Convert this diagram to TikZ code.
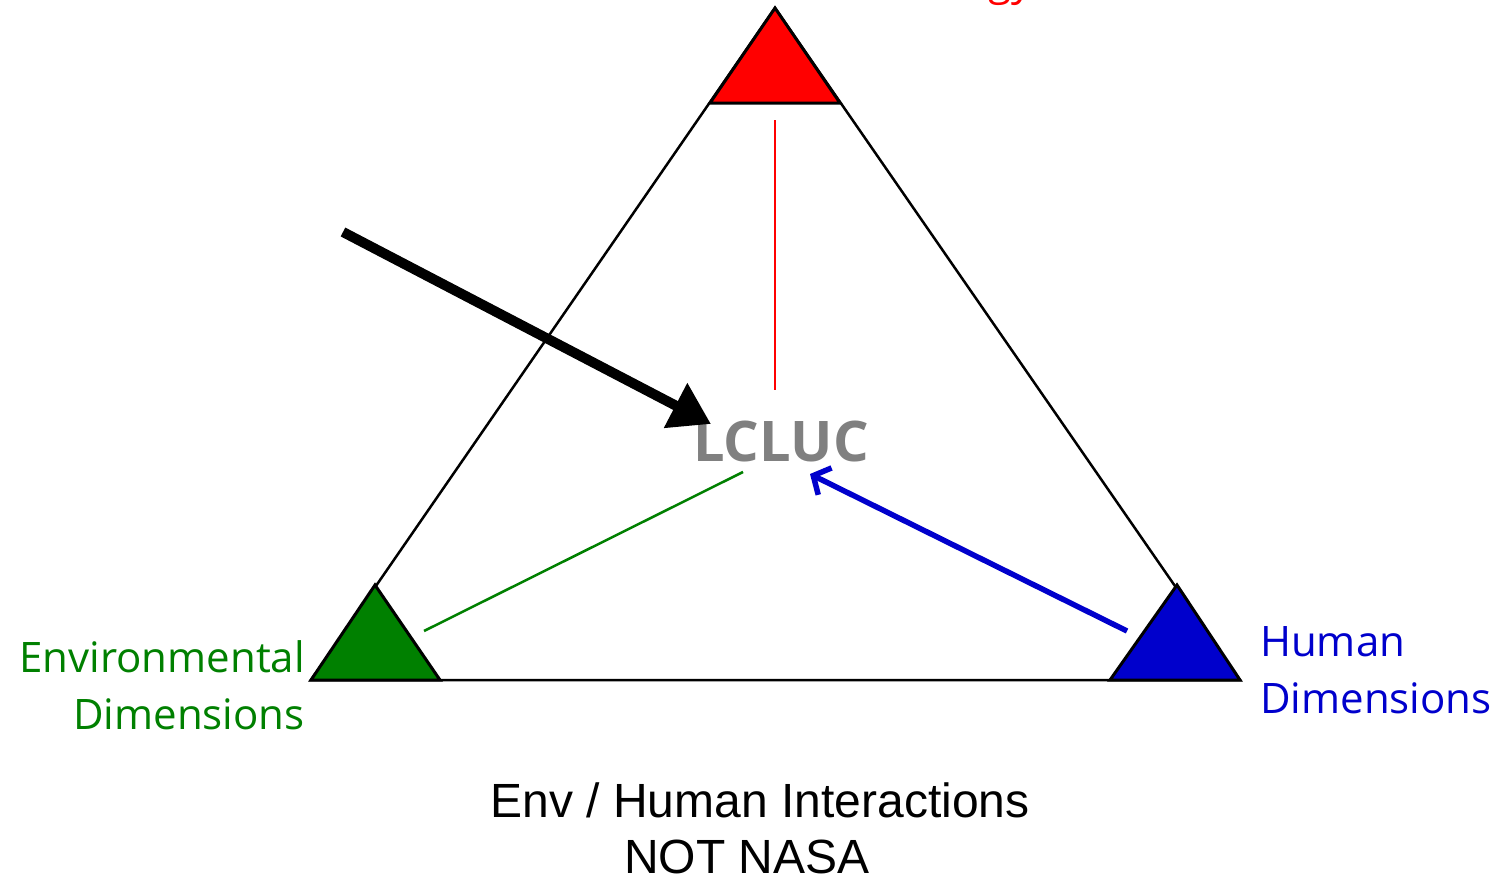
\documentclass[tikz,border=0pt]{standalone}
\usepackage{fontspec}
\setmainfont{Open Sans}
\newfontfamily\arialfont{Liberation Sans}
\usetikzlibrary{arrows.meta}
\definecolor{cred}{HTML}{FF0000}
\definecolor{cgreen}{HTML}{008000}
\definecolor{cblue}{HTML}{0000CC}
\definecolor{cgray}{HTML}{808080}
\tikzset{
  corner/.style={draw=black, line width=3pt, line join=miter},
  lbl/.style={inner sep=0pt, font=\fontsize{42}{57}\selectfont},
  btm/.style={inner sep=0pt, anchor=base, font=\arialfont\fontsize{48}{56}\selectfont},
}
\begin{document}
\begin{tikzpicture}[x=1pt,y=-1pt]
\clip (0,0) rectangle (1500,878);
\fill[white] (0,0) rectangle (1500,878);
% corners of the big triangle
\coordinate (T) at (775,8);
\coordinate (L) at (311,680);
\coordinate (R) at (1240,680);
\draw[line width=2.5pt, line join=miter] (T) -- (L) -- (R) -- cycle;
% corner triangles
\filldraw[corner, fill=cred] (T) -- (710,103) -- (840,103) -- cycle;
\filldraw[corner, fill=cgreen] (375,585) -- (L) -- (440,680) -- cycle;
\filldraw[corner, fill=cblue] (1177,585) -- (1110,680) -- (R) -- cycle;
% centre label
\node[font=\fontsize{56}{60}\selectfont\bfseries, text=cgray, inner sep=0pt] (lcluc) at (781,441) {LCLUC};
% connectors
\coordinate (rtop) at (775,120);
\coordinate (rbot) at (775,390);
\draw[cred, line width=2pt] (rtop) -- (rbot);
\coordinate (gA) at (424,631);
\coordinate (gB) at (743,472);
\draw[cgreen, line width=2.5pt] (gA) -- (gB);
\coordinate (bA) at (1127,631);
\coordinate (bB) at (810,474);
\draw[cblue, line width=5.5pt, -{Straight Barb[length=13pt,width=30pt]}] (bA) -- (bB);
\coordinate (kA) at (343,232);
\coordinate (kB) at (711,424);
\draw[black, line width=10pt, -{Triangle[length=40pt,width=48pt]}] (kA) -- (kB);
% labels
\node[lbl, text=cgreen, anchor=base east, align=right] (env) at (305,729) {Environmental\\Dimensions};
\node[lbl, text=cblue, anchor=base west, align=left] (hum) at (1260,713) {Human\\Dimensions};
\node[lbl, text=cred, anchor=base east] (tech) at (1033,-5) {Technology};
\node[btm] (inter) at (760,817) {Env / Human Interactions};
\node[btm] (nasa) at (747,873) {NOT NASA};
\end{tikzpicture}
\end{document}
